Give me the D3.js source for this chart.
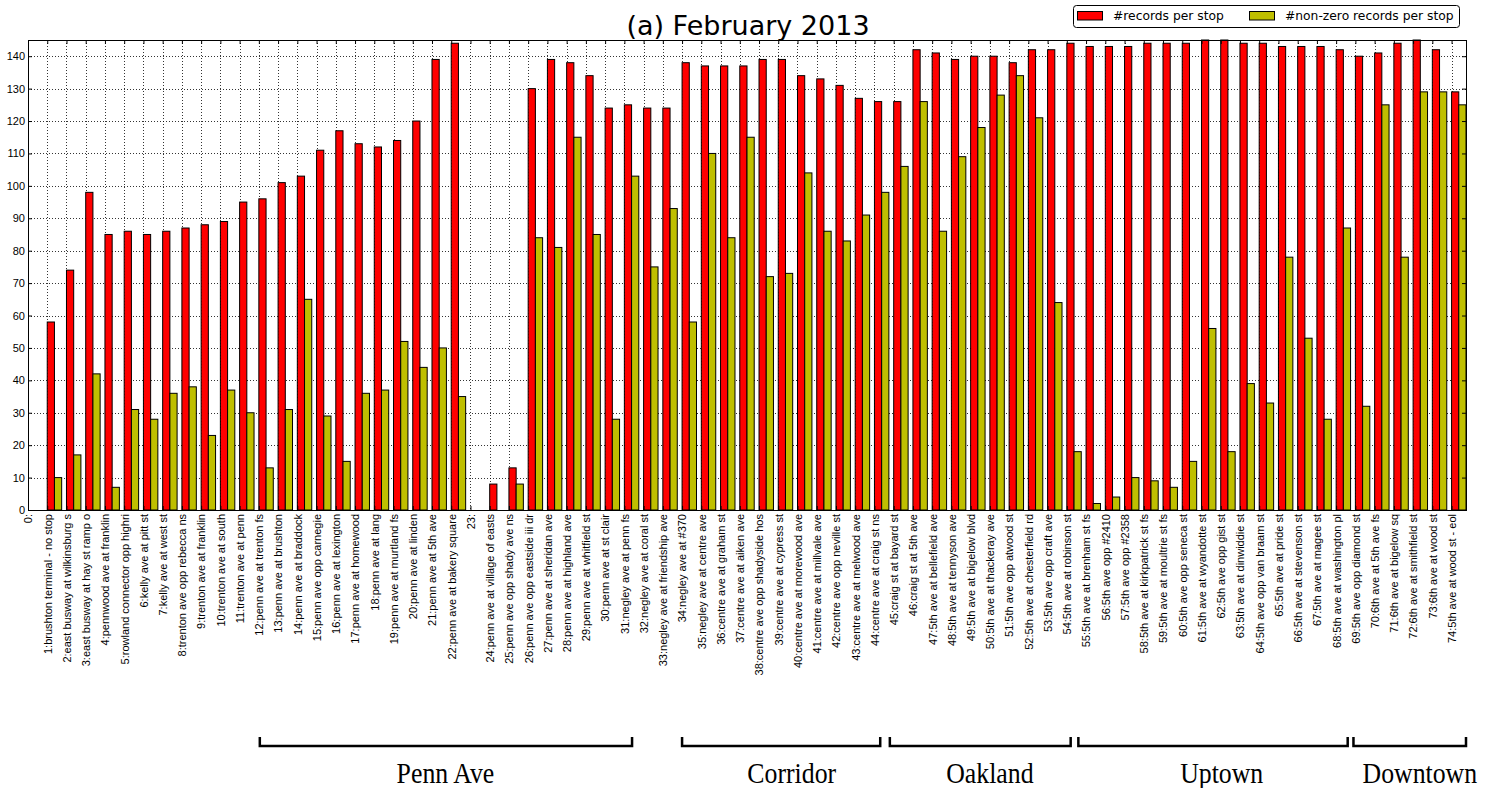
<!DOCTYPE html>
<html>
<head>
<meta charset="utf-8">
<script src="https://cdn.jsdelivr.net/npm/d3@7"></script>
<style>
  html, body { margin: 0; padding: 0; background: #fff; }
  svg { display: block; font-family: "DejaVu Sans", sans-serif; }
</style>
</head>
<body>
<svg id="chart" width="1492" height="788"></svg>
<script>
// Stop names along the route (index = stop number; 0 and 23 have no name)
const stopNames = [
  "", "brushton terminal - no stop", "east busway at wilkinsburg s", "east busway at hay st ramp o",
  "pennwood ave at franklin", "rowland connector opp highri", "kelly ave at pitt st", "kelly ave at west st",
  "trenton ave opp rebecca ns", "trenton ave at franklin", "trenton ave at south", "trenton ave at penn",
  "penn ave at trenton fs", "penn ave at brushton", "penn ave at braddock", "penn ave opp carnegie",
  "penn ave at lexington", "penn ave at homewood", "penn ave at lang", "penn ave at murtland fs",
  "penn ave at linden", "penn ave at 5th ave", "penn ave at bakery square", "",
  "penn ave at village of easts", "penn ave opp shady ave ns", "penn ave opp eastside iii dr",
  "penn ave at sheridan ave", "penn ave at highland ave", "penn ave at whitfield st", "penn ave at st clair",
  "negley ave at penn fs", "negley ave at coral st", "negley ave at friendship ave", "negley ave at #370",
  "negley ave at centre ave", "centre ave at graham st", "centre ave at aiken ave",
  "centre ave opp shadyside hos", "centre ave at cypress st", "centre ave at morewood ave",
  "centre ave at millvale ave", "centre ave opp neville st", "centre ave at melwood ave",
  "centre ave at craig st ns", "craig st at bayard st", "craig st at 5th ave", "5th ave at bellefield ave",
  "5th ave at tennyson ave", "5th ave at bigelow blvd", "5th ave at thackeray ave", "5th ave opp atwood st",
  "5th ave at chesterfield rd", "5th ave opp craft ave", "5th ave at robinson st", "5th ave at brenham st fs",
  "5th ave opp #2410", "5th ave opp #2358", "5th ave at kirkpatrick st fs", "5th ave at moultrie st fs",
  "5th ave opp seneca st", "5th ave at wyandotte st", "5th ave opp gist st", "5th ave at dinwiddie st",
  "5th ave opp van braam st", "5th ave at pride st", "5th ave at stevenson st", "5th ave at magee st",
  "5th ave at washington pl", "5th ave opp diamond st", "6th ave at 5th ave fs", "6th ave at bigelow sq",
  "6th ave at smithfield st", "6th ave at wood st", "5th ave at wood st - eol"
];

// #records per stop
const recordsPerStop = [
  0, 58, 74, 98, 85, 86, 85, 86, 87, 88, 89, 95, 96, 101, 103, 111, 117, 113, 112, 114, 120, 139, 144,
  0, 8, 13, 130, 139, 138, 134, 124, 125, 124, 124, 138, 137, 137, 137, 139, 139, 134, 133, 131, 127,
  126, 126, 142, 141, 139, 140, 140, 138, 142, 142, 144, 143, 143, 143, 144, 144, 144, 145, 145, 144,
  144, 143, 143, 143, 142, 140, 141, 144, 145, 142, 129
];

// #non-zero records per stop
const nonZeroPerStop = [
  0, 10, 17, 42, 7, 31, 28, 36, 38, 23, 37, 30, 13, 31, 65, 29, 15, 36, 37, 52, 44, 50, 35,
  0, 0, 8, 84, 81, 115, 85, 28, 103, 75, 93, 58, 110, 84, 115, 72, 73, 104, 86, 83, 91,
  98, 106, 126, 86, 109, 118, 128, 134, 121, 64, 18, 2, 4, 10, 9, 7, 15, 56, 18, 39,
  33, 78, 53, 28, 87, 32, 125, 78, 129, 129, 125
];

const yTicks = d3.range(0, 141, 10);

// Route segments, in stop units
const segmentNames = ["Penn Ave", "Corridor", "Oakland", "Uptown", "Downtown"];
const segmentFrom  = [12.05, 34.0, 44.8, 54.6, 68.9];
const segmentTo    = [31.4, 44.3, 54.2, 68.6, 74.75];
const segmentLabel = [21.7, 39.7, 50.0, 62.05, 72.35];

const seriesNames = ["#records per stop", "#non-zero records per stop"];
const seriesColors = ["#ff0000", "#bfbf00"];

const svg = d3.select("#chart");
const plotL = 28, plotR = 1466, plotT = 40, plotB = 510;
const barW = 0.375;

const x = d3.scaleLinear().domain([0, 74.75]).range([plotL, plotR]);
const y = d3.scaleLinear().domain([0, 145]).range([plotB, plotT]);
const stops = d3.range(stopNames.length);

// Grid
const grid = svg.append("g").attr("stroke", "#000").attr("stroke-width", 0.8)
  .attr("stroke-dasharray", "1,2").attr("fill", "none");
grid.selectAll(".gx").data(stops).join("line")
  .attr("x1", d => Math.round(x(d)) + 0.5).attr("x2", d => Math.round(x(d)) + 0.5)
  .attr("y1", plotT).attr("y2", plotB);
grid.selectAll(".gy").data(yTicks).join("line")
  .attr("x1", plotL).attr("x2", plotR)
  .attr("y1", d => Math.round(y(d)) + 0.5).attr("y2", d => Math.round(y(d)) + 0.5);

// Bars
const series = [recordsPerStop, nonZeroPerStop];
series.forEach((vals, s) => {
  svg.append("g").selectAll("rect")
    .data(stops.filter(i => vals[i] > 0))
    .join("rect")
    .attr("x", i => x(i + s * barW))
    .attr("width", i => x(i + (s + 1) * barW) - x(i + s * barW))
    .attr("y", i => y(vals[i]))
    .attr("height", i => y(0) - y(vals[i]))
    .attr("fill", seriesColors[s])
    .attr("stroke", "#000")
    .attr("stroke-width", 1);
});

// Axes (ticks point inward)
const xAxis = svg.append("g").attr("transform", `translate(0,${plotB})`)
  .call(d3.axisBottom(x).tickValues(stops).tickSize(-4).tickSizeOuter(0)
    .tickFormat(i => `${i}:${stopNames[i]}`));
xAxis.select(".domain").remove();
xAxis.selectAll("text")
  .attr("transform", "rotate(-90)")
  .attr("x", -4).attr("y", 0).attr("dy", "0.35em")
  .style("text-anchor", "end")
  .style("font-size", "11px")
  .attr("fill", "#000");

const yAxis = svg.append("g").attr("transform", `translate(${plotL},0)`)
  .call(d3.axisLeft(y).tickValues(yTicks).tickSize(-4).tickSizeOuter(0).tickPadding(3));
yAxis.select(".domain").remove();
yAxis.selectAll("text").style("font-size", "11px").attr("fill", "#000");

const topAxis = svg.append("g").attr("transform", `translate(0,${plotT})`)
  .call(d3.axisTop(x).tickValues(stops).tickSize(-4).tickSizeOuter(0).tickFormat(""));
topAxis.select(".domain").remove();
const rightAxis = svg.append("g").attr("transform", `translate(${plotR},0)`)
  .call(d3.axisRight(y).tickValues(yTicks).tickSize(-4).tickSizeOuter(0).tickFormat(""));
rightAxis.select(".domain").remove();

// Frame
svg.append("rect")
  .attr("x", plotL + 0.5).attr("y", plotT + 0.5)
  .attr("width", plotR - plotL).attr("height", plotB - plotT)
  .attr("fill", "none").attr("stroke", "#000").attr("stroke-width", 1);

// Title
svg.append("text")
  .attr("x", 748).attr("y", 35)
  .attr("text-anchor", "middle")
  .style("font-size", "27px")
  .text("(a) February 2013");

// Legend
const lg = svg.append("g");
lg.append("rect").attr("x", 1073.5).attr("y", 5.5).attr("width", 386).attr("height", 22)
  .attr("rx", 3).attr("fill", "#fff").attr("stroke", "#000").attr("stroke-width", 1);
const legendX = [1077, 1249];
seriesNames.forEach((name, s) => {
  lg.append("rect").attr("x", legendX[s] + 0.5).attr("y", 11.5).attr("width", 25).attr("height", 8.5)
    .attr("fill", seriesColors[s]).attr("stroke", "#000").attr("stroke-width", 1);
  lg.append("text").attr("x", legendX[s] + 36).attr("y", 16).attr("dy", "0.35em")
    .style("font-size", "12.3px").text(name);
});

// Route segment brackets
const seg = svg.append("g");
segmentNames.forEach((name, k) => {
  const x0 = x(segmentFrom[k]), x1 = x(segmentTo[k]);
  seg.append("path")
    .attr("d", `M${x0},737 V746 H${x1} V737`)
    .attr("fill", "none").attr("stroke", "#000").attr("stroke-width", 2.5);
  seg.append("text")
    .attr("transform", `translate(${x(segmentLabel[k])},783) scale(0.86,1)`)
    .attr("text-anchor", "middle")
    .style("font-family", "'Liberation Serif', 'Times New Roman', serif")
    .style("font-size", "30px")
    .text(name);
});
</script>
</body>
</html>
